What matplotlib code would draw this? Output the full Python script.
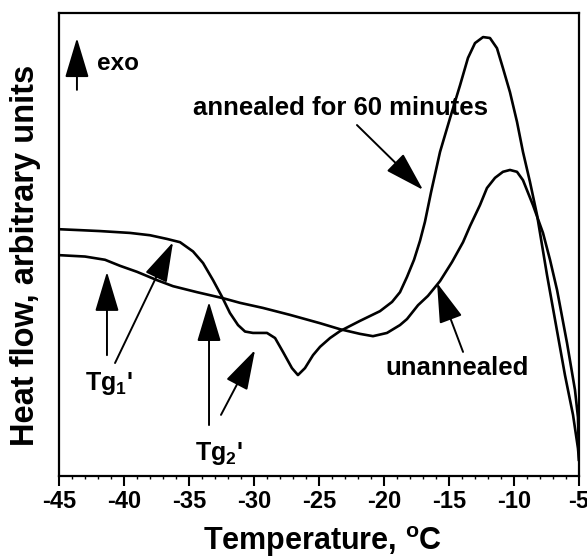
import numpy as np
import matplotlib
matplotlib.use('Agg')
import matplotlib.pyplot as plt
from matplotlib.ticker import MultipleLocator

plt.rcParams['font.family'] = ['Liberation Sans', 'DejaVu Sans']
plt.rcParams['font.weight'] = 'bold'
plt.rcParams['mathtext.fontset'] = 'custom'
plt.rcParams['mathtext.rm'] = 'Liberation Sans:bold'
plt.rcParams['mathtext.bf'] = 'Liberation Sans:bold'
plt.rcParams['mathtext.it'] = 'Liberation Sans:bold'
plt.rcParams['mathtext.default'] = 'bf'

# annealed for 60 minutes (temperature in C, heat flow in arbitrary units)
annealed_T = [-45.0, -43.38, -41.85, -39.54, -38.0, -36.69, -35.69, -34.69, -33.92, -33.15,
              -32.46, -31.85, -31.23, -30.69, -30.08, -29.0, -28.38, -27.77, -27.08, -26.62,
              -26.08, -25.46, -24.92, -24.15, -23.38, -21.85, -20.31, -19.38, -18.77, -18.23,
              -17.69, -17.23, -16.85, -16.38, -15.69, -14.92, -14.15, -13.54, -13.0, -12.38,
              -11.85, -11.31, -10.85, -10.31, -9.77, -9.31, -8.77, -8.23, -7.46, -6.77,
              -6.08, -5.46, -5.08, -5.0]
annealed_H = [53.3, 53.1, 52.9, 52.5, 52.0, 51.2, 50.5, 48.5, 46.0, 42.3,
              38.7, 35.2, 32.6, 31.2, 30.9, 30.9, 29.8, 26.8, 23.3, 21.8,
              23.3, 26.1, 27.9, 29.8, 31.3, 33.5, 35.6, 37.6, 39.7, 43.0,
              46.7, 50.8, 54.9, 61.3, 70.0, 77.3, 84.4, 90.3, 93.5, 94.8,
              94.6, 92.4, 88.1, 82.9, 76.5, 70.0, 63.5, 56.4, 43.4, 32.6,
              21.8, 13.2, 6.0, 3.5]

# unannealed
unannealed_T = [-45.0, -43.0, -41.46, -40.31, -39.0, -37.46, -36.23, -34.38, -32.38, -31.08,
                -29.31, -27.23, -24.92, -23.38, -21.85, -20.85, -19.77, -18.77, -18.23, -17.38,
                -16.62, -15.69, -14.77, -13.92, -13.38, -12.62, -12.08, -11.46, -10.85, -10.31,
                -9.77, -9.31, -8.54, -7.77, -7.23, -6.69, -5.92, -5.31, -5.08, -5.0]
unannealed_H = [47.7, 47.4, 46.7, 45.4, 44.1, 42.3, 41.0, 39.7, 38.4, 37.4,
                36.3, 34.8, 33.0, 31.7, 30.7, 30.2, 30.9, 32.6, 33.9, 36.9,
                38.9, 42.1, 46.2, 50.5, 54.0, 58.5, 62.2, 64.4, 65.7, 66.1,
                65.7, 63.9, 58.5, 52.5, 46.7, 40.2, 28.7, 18.6, 12.7, 3.5]

xticks = [-45, -40, -35, -30, -25, -20, -15, -10, -5]

fig = plt.figure(figsize=(5.87, 5.60), dpi=100)
ax = fig.add_axes([59/587, 1-476/560, 520/587, 463/560])

ax.plot(annealed_T, annealed_H, color='black', lw=1.9, solid_joinstyle='round')
ax.plot(unannealed_T, unannealed_H, color='black', lw=1.9, solid_joinstyle='round')

ax.set_xlim(-45, -5)
ax.set_ylim(0, 100)
ax.set_xticks(xticks)
ax.set_xticklabels([str(t) for t in xticks])
ax.xaxis.set_minor_locator(MultipleLocator(1))
ax.set_yticks([])
ax.tick_params(axis='x', which='major', direction='out', length=7, width=1.5,
               labelsize=17, pad=3)
ax.tick_params(axis='x', which='minor', direction='out', length=2.5, width=1)
for s in ax.spines.values():
    s.set_linewidth(1.6)

ax.set_xlabel(r'Temperature, $^{o}$C', fontsize=22, fontweight='bold')
ax.xaxis.set_label_coords(0.506, -0.105)
ax.set_ylabel('Heat flow, arbitrary units', fontsize=23.5, fontweight='bold')
ax.yaxis.set_label_coords(-0.035, 0.477)

def arrow(tail, tip):
    ax.annotate('', xy=tip, xytext=tail,
                arrowprops=dict(arrowstyle='-|>,head_length=2.5,head_width=0.75',
                                mutation_scale=10, lw=1.4, color='black',
                                shrinkA=0, shrinkB=0))

arrow((-43.62, 83.4), (-43.62, 94.6))
arrow((-22.08, 75.8), (-17.0, 61.8))
arrow((-13.92, 26.8), (-15.92, 41.7))
arrow((-41.31, 26.1), (-41.31, 44.1))
arrow((-40.69, 24.4), (-36.23, 50.5))
arrow((-33.46, 11.0), (-33.46, 37.6))
arrow((-32.54, 13.2), (-29.92, 27.2))

ax.text(-42.08, 87.7, 'exo', fontsize=17.5, fontweight='bold', ha='left', va='baseline')
ax.text(-34.69, 78.0, 'annealed for 60 minutes', fontsize=18.5, fontweight='bold',
        ha='left', va='baseline')
ax.text(-19.92, 21.8, 'unannealed', fontsize=18.5, fontweight='bold', ha='left', va='baseline')
ax.text(-43.0, 18.6, r"Tg$_1$'", fontsize=18, fontweight='bold', ha='left', va='baseline')
ax.text(-34.54, 3.5, r"Tg$_2$'", fontsize=18, fontweight='bold', ha='left', va='baseline')

fig.savefig('out.png', dpi=100)
